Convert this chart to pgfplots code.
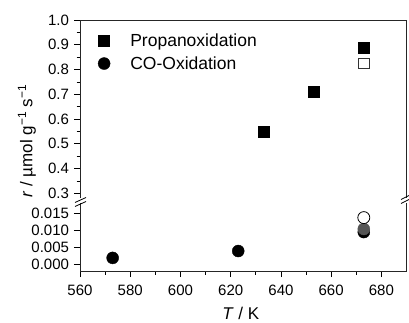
\documentclass[border=0pt]{standalone}
\usepackage{fontspec}
\setmainfont{Liberation Sans}
\usepackage{pgfplots}
\pgfplotsset{compat=1.18}
\definecolor{midgray}{RGB}{85,85,85}
\begin{document}
\begin{tikzpicture}
\path[use as bounding box] (0pt,0pt) rectangle (409pt,322pt);
\pgfplotsset{
  common/.style={
    scale only axis, width=326.5pt, xmin=560, xmax=690,
    tick align=outside, tick style={line width=0.8pt, black},
    major tick length=6pt, minor tick length=3.5pt,
    axis line style={line width=1pt, black!85},
    ytick pos=left,
    /pgf/number format/assume math mode=true,
    tick label style={font=\fontsize{15}{16}\selectfont},
    yticklabel style={xshift=-1.5pt},
    clip=false,
    scaled y ticks=false,
  }
}
% lower panel
\begin{axis}[common, at={(80pt,51pt)}, anchor=south west, height=68.2pt,
  ymin=-0.0018, ymax=0.018,
  axis x line*=bottom, axis y line*=box,
  xtick={560,580,600,620,640,660,680}, minor x tick num=1,
  ytick={0,0.005,0.010,0.015},
  yticklabel style={/pgf/number format/.cd, fixed, fixed zerofill, precision=3},
  xticklabel style={yshift=-4pt, /pgf/number format/.cd, 1000 sep={}},
]
\addplot[only marks, mark=*, mark size=6, black] coordinates {(573,0.002) (623,0.004) (673,0.0095)};
\addplot[only marks, mark=*, mark size=6, mark options={fill=midgray, draw=midgray}] coordinates {(673,0.0104)};
\addplot[only marks, mark=*, mark size=6, mark options={fill=white, draw=black, line width=0.8pt}] coordinates {(673,0.0137)};
\end{axis}
% upper panel
\begin{axis}[common, at={(80pt,123.7pt)}, anchor=south west, height=178.3pt,
  ymin=0.28, ymax=1.0,
  axis x line*=top, axis y line*=box, xtick=\empty,
  ytick={0.3,0.4,0.5,0.6,0.7,0.8,0.9,1.0}, minor y tick num=1,
  yticklabel style={/pgf/number format/.cd, fixed, fixed zerofill, precision=1},
  legend style={at={(0.042,0.935)}, anchor=north west, draw=none, fill=none,
    font=\fontsize{17.5}{20}\selectfont, row sep=4.5pt, inner sep=0pt},
  legend cell align=left,
  legend image code/.code={\path (0pt,0pt) (34pt,0pt); \draw[mark repeat=2,mark phase=2,#1] plot coordinates {(0pt,0pt) (10pt,0pt) (20pt,0pt)};},
]
\addplot[only marks, mark=square*, mark size=5.5, black] coordinates {(633,0.55) (653,0.71) (673,0.89)};
\addlegendentry{Propanoxidation}
\addlegendimage{only marks, mark=*, mark size=6, black}
\addlegendentry{CO-Oxidation}
\addplot[forget plot, only marks, mark=square, mark size=5.3, mark options={draw=black!80, line width=1pt, fill=white}] coordinates {(673,0.825)};
\end{axis}
% axis break marks
\fill[white] (74pt,119.2pt) rectangle (87pt,123.7pt);
\fill[white] (402pt,119.2pt) rectangle (409pt,123.7pt);
\draw[line width=0.8pt] (75pt,119.5pt) -- (86pt,124.5pt);
\draw[line width=0.8pt] (75pt,115.5pt) -- (86pt,120.5pt);
\draw[line width=0.8pt] (401pt,122.5pt) -- (409pt,126.5pt);
\draw[line width=0.8pt] (401pt,118.5pt) -- (409pt,122.5pt);
\node[rotate=90, font=\fontsize{17}{20}\selectfont] at (27pt,181pt) {\textit{r} / µmol g\textsuperscript{−1} s\textsuperscript{−1}};
\node[font=\fontsize{17}{20}\selectfont] at (240.7pt,8.5pt) {\textit{T} / K};
\end{tikzpicture}
\end{document}
